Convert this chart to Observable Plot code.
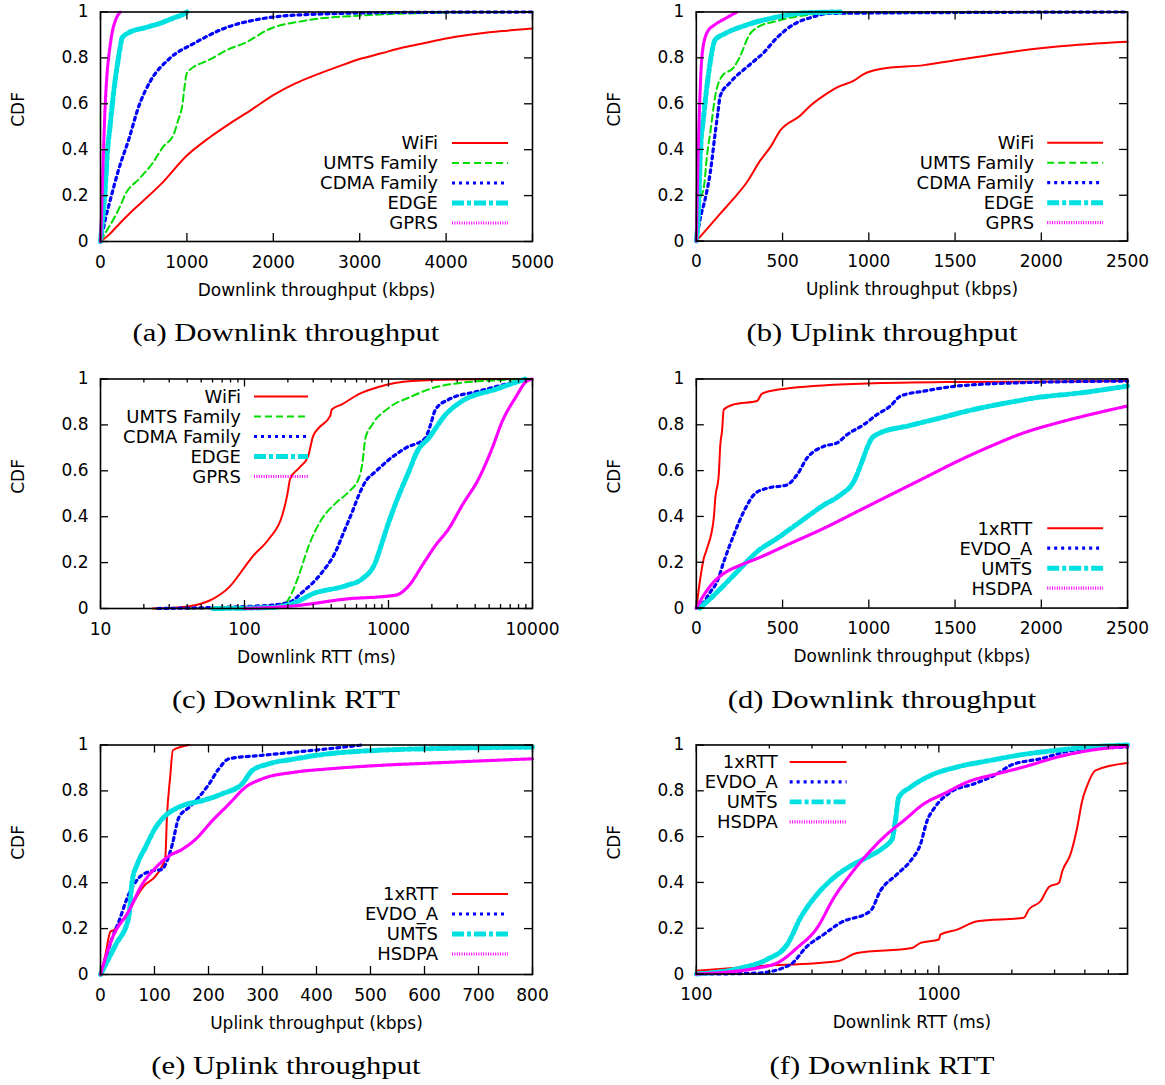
<!DOCTYPE html>
<html><head><meta charset="utf-8">
<script src="https://cdn.jsdelivr.net/npm/d3@7"></script>
<script src="https://cdn.jsdelivr.net/npm/@observablehq/plot@0.6"></script>
<style>
body{margin:0;background:#fff;}
#root{position:relative;width:1165px;height:1085px;overflow:hidden;background:#fff;}
.panel{position:absolute;}
.cap{position:absolute;font-family:"Liberation Serif","Times New Roman",serif;font-size:26px;line-height:30px;white-space:nowrap;transform:translateX(-50%) scaleX(1.18);transform-origin:center;color:#000;}
</style></head><body><div id="root"></div>
<script>
// ---------- tick values ----------
const yTicks = [0, 0.2, 0.4, 0.6, 0.8, 1];
const aXTicks = [0, 1000, 2000, 3000, 4000, 5000];
const bXTicks = [0, 500, 1000, 1500, 2000, 2500];
const cXTicks = [10, 100, 1000, 10000];
const cXMinor = [20,30,40,50,60,70,80,90,200,300,400,500,600,700,800,900,2000,3000,4000,5000,6000,7000,8000,9000];
const dXTicks = [0, 500, 1000, 1500, 2000, 2500];
const eXTicks = [0, 100, 200, 300, 400, 500, 600, 700, 800];
const fXTicks = [100, 1000];
const fXMinor = [200,300,400,500,600,700,800,900,2000,3000,4000,5000];

// ---------- series names ----------
const techNames = ["WiFi", "UMTS Family", "CDMA Family", "EDGE", "GPRS"];
const netNames = ["1xRTT", "EVDO_A", "UMTS", "HSDPA"];

// ---------- (a) Downlink throughput ----------
const aWiFi = [[0,0],[100,0.03],[200,0.07],[400,0.145],[520,0.186],[700,0.25],[1000,0.375],[1250,0.45],[1500,0.515],[1750,0.575],[2000,0.638],[2250,0.688],[2500,0.727],[2750,0.762],[3000,0.795],[3250,0.82],[3500,0.845],[3750,0.865],[4000,0.885],[4250,0.9],[4500,0.912],[4750,0.92],[5000,0.928]];
const aUMTS = [[0,0],[39,0.026],[96,0.062],[174,0.113],[231,0.157],[289,0.207],[445,0.272],[600,0.34],[720,0.41],[850,0.47],[900,0.53],[945,0.59],[975,0.68],[1000,0.735],[1040,0.75],[1250,0.79],[1485,0.838],[1680,0.867],[1950,0.925],[2330,0.96],[3030,0.985],[4000,0.997],[5000,1]];
const aCDMA = [[0,0],[30,0.05],[58,0.1],[116,0.185],[212,0.316],[328,0.446],[444,0.59],[579,0.7],[790,0.794],[1100,0.867],[1408,0.925],[1870,0.971],[2450,0.99],[3500,0.998],[5000,1]];
const aEDGE = [[0,0],[20,0.08],[39,0.157],[60,0.26],[77,0.374],[110,0.5],[135,0.591],[165,0.69],[193,0.765],[225,0.84],[251,0.888],[328,0.91],[520,0.932],[714,0.954],[850,0.975],[985,0.995],[1000,1]];
const aGPRS = [[0,0],[10,0.1],[20,0.22],[39,0.446],[55,0.6],[77,0.736],[100,0.82],[135,0.91],[180,0.97],[231,1]];

// ---------- (b) Uplink throughput ----------
const bWiFi = [[0,0],[81,0.07],[139,0.12],[217,0.186],[294,0.258],[371,0.352],[429,0.41],[487,0.483],[603,0.548],[661,0.591],[739,0.635],[816,0.671],[913,0.70],[971,0.729],[1067,0.751],[1319,0.768],[1512,0.79],[1802,0.823],[2092,0.849],[2500,0.87]];
const bUMTS = [[0,0],[8,0.08],[23,0.185],[43,0.23],[62,0.374],[81,0.475],[110,0.635],[149,0.72],[217,0.758],[255,0.809],[304,0.896],[352,0.932],[468,0.961],[603,0.983],[777,0.994],[2500,1]];
const bCDMA = [[0,0],[23,0.1],[52,0.186],[81,0.30],[110,0.475],[125,0.56],[139,0.635],[197,0.693],[313,0.772],[391,0.823],[468,0.888],[565,0.946],[661,0.975],[777,0.994],[2500,1]];
const bEDGE = [[0,0],[14,0.157],[23,0.374],[43,0.548],[72,0.736],[110,0.88],[159,0.903],[275,0.939],[449,0.975],[642,0.997],[835,1]];
const bGPRS = [[0,0],[8,0.30],[19,0.59],[33,0.81],[62,0.91],[110,0.946],[159,0.968],[236,1]];

// ---------- (c) Downlink RTT ----------
const cWiFi = [[23,0],[35,0.004],[46,0.015],[60,0.041],[78,0.092],[102,0.187],[113,0.224],[148,0.304],[183,0.406],[198,0.494],[208,0.567],[238,0.611],[276,0.662],[299,0.75],[328,0.787],[393,0.838],[404,0.867],[474,0.889],[617,0.933],[851,0.965],[1450,0.991],[3200,0.998],[10000,1]];
const cUMTS = [[40,0],[101,0.004],[147,0.012],[193,0.026],[214,0.07],[238,0.143],[280,0.275],[346,0.392],[428,0.458],[530,0.509],[622,0.567],[656,0.626],[692,0.743],[770,0.801],[1004,0.874],[1459,0.925],[1905,0.955],[3250,0.984],[5500,0.994],[9000,1]];
const cCDMA = [[25,0],[133,0.012],[203,0.026],[251,0.07],[346,0.158],[428,0.246],[489,0.333],[560,0.421],[622,0.494],[692,0.553],[812,0.596],[1005,0.648],[1312,0.699],[1806,0.743],[1958,0.801],[2120,0.867],[2623,0.911],[4240,0.947],[6450,0.977],[8900,1]];
const cEDGE = [[60,0],[150,0.004],[226,0.026],[295,0.063],[502,0.099],[656,0.129],[812,0.202],[904,0.289],[1005,0.377],[1180,0.494],[1383,0.596],[1581,0.684],[1905,0.743],[2490,0.845],[3250,0.904],[5530,0.955],[8900,1]];
const cGPRS = [[100,0],[226,0.012],[502,0.041],[1119,0.058],[1383,0.099],[1713,0.187],[2120,0.275],[2623,0.348],[3250,0.45],[4240,0.567],[5250,0.699],[6170,0.816],[7600,0.918],[9120,0.991],[10000,1]];

// ---------- (d) Downlink throughput ----------
const dRTT = [[0,0],[23,0.129],[43,0.216],[62,0.26],[101,0.392],[110,0.48],[130,0.582],[139,0.713],[149,0.772],[159,0.867],[217,0.889],[352,0.904],[381,0.936],[487,0.955],[681,0.969],[990,0.98],[1512,0.987],[2500,0.991]];
const dEVDO = [[0,0],[43,0.026],[81,0.07],[120,0.114],[159,0.202],[217,0.319],[275,0.421],[342,0.501],[410,0.523],[526,0.538],[584,0.582],[642,0.655],[739,0.706],[816,0.721],[874,0.757],[971,0.801],[1048,0.845],[1125,0.882],[1183,0.925],[1319,0.947],[1512,0.969],[1899,0.984],[2500,0.991]];
const dUMTS = [[20,0],[81,0.041],[159,0.099],[255,0.173],[352,0.246],[468,0.304],[603,0.377],[739,0.45],[836,0.494],[913,0.553],[961,0.64],[990,0.699],[1019,0.743],[1067,0.765],[1222,0.794],[1415,0.83],[1609,0.867],[1802,0.896],[1995,0.921],[2189,0.936],[2500,0.969]];
const dHSDPA = [[0,0],[43,0.056],[101,0.114],[159,0.151],[255,0.187],[352,0.216],[545,0.282],[739,0.348],[932,0.421],[1125,0.494],[1319,0.567],[1512,0.64],[1705,0.706],[1899,0.765],[2092,0.808],[2285,0.845],[2500,0.882]];

// ---------- (e) Uplink throughput ----------
const eRTT = [[0,0],[9,0.085],[18.5,0.187],[25,0.194],[37,0.231],[49,0.253],[59,0.304],[83,0.392],[99,0.421],[114,0.472],[120,0.509],[123,0.684],[129,0.86],[134,0.977],[164,1]];
const eEVDO = [[0,0],[9,0.063],[21.6,0.158],[34,0.231],[52,0.348],[71,0.421],[93,0.45],[114,0.458],[123,0.494],[133,0.567],[145,0.684],[164,0.728],[182,0.772],[201,0.83],[219,0.896],[238,0.94],[299,0.955],[361,0.969],[423,0.984],[485,1]];
const eUMTS = [[0,0],[28,0.129],[52,0.246],[58.6,0.406],[68,0.48],[83,0.553],[102,0.64],[120,0.692],[151,0.735],[188,0.757],[225,0.787],[262,0.83],[281,0.889],[312,0.918],[361,0.94],[423,0.962],[515,0.977],[608,0.984],[800,0.991]];
const eHSDPA = [[0,0],[21.6,0.158],[52,0.275],[77,0.392],[102,0.465],[126.5,0.516],[151,0.545],[176,0.589],[207,0.67],[238,0.743],[268.5,0.816],[299,0.852],[361,0.882],[423,0.896],[515,0.911],[608,0.921],[800,0.94]];

// ---------- (f) Downlink RTT ----------
const fRTT = [[100,0.015],[178,0.034],[381,0.056],[460,0.092],[776,0.114],[840,0.136],[1000,0.151],[1016,0.173],[1190,0.194],[1440,0.231],[2240,0.246],[2350,0.282],[2630,0.319],[2845,0.38],[3130,0.399],[3230,0.45],[3490,0.523],[3720,0.64],[3900,0.757],[4090,0.823],[4430,0.889],[6000,0.921]];
const fEVDO = [[100,0],[178,0.004],[244,0.041],[286,0.121],[335,0.173],[393,0.224],[522,0.275],[574,0.363],[673,0.436],[764,0.494],[840,0.567],[895,0.67],[953,0.721],[1117,0.794],[1393,0.83],[1740,0.874],[1976,0.911],[2630,0.94],[3600,0.977],[6000,0.991]];
const fUMTS = [[100,0],[152,0.026],[195,0.063],[237,0.129],[269,0.246],[315,0.348],[369,0.421],[433,0.472],[506,0.509],[593,0.553],[642,0.589],[662,0.67],[684,0.772],[764,0.816],[924,0.867],[1190,0.904],[1633,0.933],[2240,0.959],[3080,0.977],[4230,0.991],[6000,1]];
const fHSDPA = [[100,0],[178,0.026],[222,0.056],[260,0.114],[315,0.202],[369,0.333],[433,0.436],[522,0.538],[612,0.611],[717,0.67],[867,0.743],[1049,0.787],[1310,0.838],[1740,0.874],[2240,0.904],[3080,0.947],[4230,0.977],[6000,0.994]];

// ---------- line styles (gnuplot-like) ----------
const lineStyles = [
  {stroke: "#ff0000", strokeWidth: 2},
  {stroke: "#00dd00", strokeWidth: 2, strokeDasharray: "7,4"},
  {stroke: "#0000ff", strokeWidth: 3.2, strokeDasharray: "3,4"},
  {stroke: "#00e0e0", strokeWidth: 5, strokeDasharray: "12,3,4,3"},
  {stroke: "#ff00ff", strokeWidth: 3.2, strokeDasharray: "1,1.4"}
];

const root = document.getElementById("root");
const W = 570, H = 300, mL = 100, mT = 11.5, PW = 432, PH = 229.5;

function panel(cfg) {
  const left = cfg.col ? 596 : 0;
  const top = [0, 366.5, 733][cfg.row];
  const marks = [];
  cfg.series.forEach((s, i) => {
    marks.push(Plot.line(s, {x: d => d[0], y: d => d[1], curve: "monotone-x", ...lineStyles[cfg.styleIdx[i]], strokeLinejoin: "round"}));
  });
  const tk = {stroke: "black", strokeWidth: 1.3};
  marks.push(Plot.tickX(cfg.xTicks, {x: d => d, insetTop: PH - 8, ...tk}));
  marks.push(Plot.tickX(cfg.xTicks, {x: d => d, insetBottom: PH - 8, ...tk}));
  if (cfg.xMinor) {
    marks.push(Plot.tickX(cfg.xMinor, {x: d => d, insetTop: PH - 4, ...tk}));
    marks.push(Plot.tickX(cfg.xMinor, {x: d => d, insetBottom: PH - 4, ...tk}));
  }
  marks.push(Plot.tickY(yTicks, {y: d => d, insetRight: PW - 8, ...tk}));
  marks.push(Plot.tickY(yTicks, {y: d => d, insetLeft: PW - 8, ...tk}));
  marks.push(Plot.frame({stroke: "black", strokeWidth: 1.6}));
  marks.push(Plot.axisX(cfg.xTicks, {tickSize: 0, tickPadding: 14, tickFormat: d => String(d), label: null, fill: "black"}));
  marks.push(Plot.axisY(yTicks, {tickSize: 0, tickPadding: 12, tickFormat: d => String(d), label: null, fill: "black"}));
  marks.push(Plot.text([cfg.xLabel], {frameAnchor: "bottom", dy: 49, text: d => d, lineAnchor: "middle", fill: "black"}));
  marks.push(Plot.text(["CDF"], {frameAnchor: "left", dx: -82, rotate: -90, text: d => d, lineAnchor: "middle", fill: "black"}));

  const svg = Plot.plot({
    width: W, height: H,
    marginLeft: mL, marginTop: mT, marginRight: W - mL - PW, marginBottom: H - mT - PH,
    x: {type: cfg.xType, domain: cfg.xDomain},
    y: {domain: [0, 1]},
    style: {fontFamily: "DejaVu Sans", fontSize: "17px", background: "transparent", color: "black", overflow: "visible"},
    marks
  });

  // legend (gnuplot key, no box)
  const g = d3.select(svg).append("g").attr("font-family", "DejaVu Sans").attr("font-size", "18px");
  cfg.names.forEach((name, i) => {
    const y = cfg.leg.y + i * 20;
    g.append("text").attr("x", cfg.leg.tx).attr("y", y).attr("dy", "0.36em")
      .attr("text-anchor", "end").attr("fill", "black").text(name);
    const st = lineStyles[cfg.styleIdx[i]];
    g.append("line").attr("x1", cfg.leg.x1).attr("x2", cfg.leg.x2).attr("y1", y).attr("y2", y)
      .attr("stroke", st.stroke).attr("stroke-width", st.strokeWidth)
      .attr("stroke-dasharray", st.strokeDasharray || null);
  });

  const div = document.createElement("div");
  div.className = "panel";
  div.style.left = left + "px";
  div.style.top = top + "px";
  div.appendChild(svg);
  root.appendChild(div);

  const cap = document.createElement("div");
  cap.className = "cap";
  cap.style.left = (cfg.col ? 882 : 286) + "px";
  cap.style.top = (top + 318) + "px";
  cap.textContent = cfg.caption;
  root.appendChild(cap);
}

panel({col: 0, row: 0, xType: "linear", xDomain: [0, 5000], xTicks: aXTicks,
  xLabel: "Downlink throughput (kbps)", caption: "(a) Downlink throughput",
  series: [aWiFi, aUMTS, aCDMA, aEDGE, aGPRS], styleIdx: [0,1,2,3,4], names: techNames,
  leg: {tx: 438, x1: 452, x2: 508, y: 143}});
panel({col: 1, row: 0, xType: "linear", xDomain: [0, 2500], xTicks: bXTicks,
  xLabel: "Uplink throughput (kbps)", caption: "(b) Uplink throughput",
  series: [bWiFi, bUMTS, bCDMA, bEDGE, bGPRS], styleIdx: [0,1,2,3,4], names: techNames,
  leg: {tx: 439, x1: 452, x2: 508, y: 143}});
panel({col: 0, row: 1, xType: "log", xDomain: [10, 10000], xTicks: cXTicks, xMinor: cXMinor,
  xLabel: "Downlink RTT (ms)", caption: "(c) Downlink RTT",
  series: [cWiFi, cUMTS, cCDMA, cEDGE, cGPRS], styleIdx: [0,1,2,3,4], names: techNames,
  leg: {tx: 241, x1: 254, x2: 308, y: 29.5}});
panel({col: 1, row: 1, xType: "linear", xDomain: [0, 2500], xTicks: dXTicks,
  xLabel: "Downlink throughput (kbps)", caption: "(d) Downlink throughput",
  series: [dRTT, dEVDO, dUMTS, dHSDPA], styleIdx: [0,2,3,4], names: netNames,
  leg: {tx: 437, x1: 452, x2: 508, y: 161.5}});
panel({col: 0, row: 2, xType: "linear", xDomain: [0, 800], xTicks: eXTicks,
  xLabel: "Uplink throughput (kbps)", caption: "(e) Uplink throughput",
  series: [eRTT, eEVDO, eUMTS, eHSDPA], styleIdx: [0,2,3,4], names: netNames,
  leg: {tx: 438, x1: 452, x2: 508, y: 161}});
panel({col: 1, row: 2, xType: "log", xDomain: [100, 6000], xTicks: fXTicks, xMinor: fXMinor,
  xLabel: "Downlink RTT (ms)", caption: "(f) Downlink RTT",
  series: [fRTT, fEVDO, fUMTS, fHSDPA], styleIdx: [0,2,3,4], names: netNames,
  leg: {tx: 182, x1: 194, x2: 251, y: 29}});
</script></body></html>
